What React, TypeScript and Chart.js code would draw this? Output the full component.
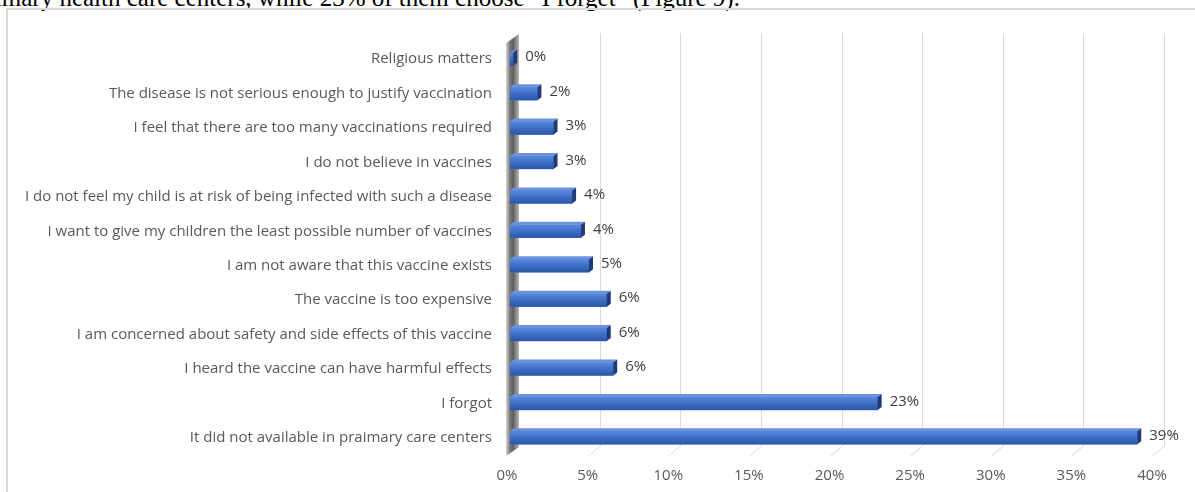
import React, { useEffect, useRef } from "react";
import { Chart, registerables } from "chart.js";

Chart.register(...registerables);

const categories: string[] = [
  "Religious matters",
  "The disease is not serious enough to justify vaccination",
  "I feel that there are too many vaccinations required",
  "I do not believe in vaccines",
  "I do not feel my child is at risk of being infected with such a disease",
  "I want to give my children the least possible number of vaccines",
  "I am not aware that this vaccine exists",
  "The vaccine is too expensive",
  "I am concerned about safety and side effects of this vaccine",
  "I heard the vaccine can have harmful effects",
  "I forgot",
  "It did not available in praimary care centers",
];

const values: number[] = [0.2, 1.7, 2.7, 2.7, 3.85, 4.4, 4.9, 6.0, 6.0, 6.4, 22.8, 38.9];

const xMin = 0;
const xMax = 40;
const xStep = 5;

const FONT = "'Open Sans', 'Noto Sans', sans-serif";
const FONT_SIZE = 15;
const DX = 12;
const DY = -9;
const FRONT_SHIFT = 3;

const threeD = {
  id: "threeD",
  beforeDatasetsDraw(chart: any) {
    const { ctx, chartArea, scales } = chart;
    const xs = scales.x;
    const top = chartArea.top;
    const bottom = chartArea.bottom;
    const x0 = xs.getPixelForValue(0) - FRONT_SHIFT - 1;
    ctx.save();
    const g = ctx.createLinearGradient(x0, 0, x0 + DX + 1, 0);
    g.addColorStop(0, "#d6d6d6");
    g.addColorStop(0.3, "#7a7a7a");
    g.addColorStop(0.55, "#5e5e5e");
    g.addColorStop(1, "#b8b8b8");
    ctx.fillStyle = g;
    ctx.beginPath();
    ctx.moveTo(x0, top + 1);
    ctx.lineTo(x0 + DX + 1, top + DY + 1);
    ctx.lineTo(x0 + DX + 1, bottom + DY + 1);
    ctx.lineTo(x0, bottom + 1);
    ctx.closePath();
    ctx.fill();
    ctx.strokeStyle = "#d9d9d9";
    ctx.lineWidth = 1;
    xs.ticks.forEach((t: any) => {
      if (t.value === 0) return;
      const px = Math.round(xs.getPixelForValue(t.value) - FRONT_SHIFT) + 0.5;
      ctx.beginPath();
      ctx.moveTo(px + DX, top + DY);
      ctx.lineTo(px + DX, bottom + DY);
      ctx.lineTo(px, bottom + 1);
      ctx.stroke();
    });
    ctx.restore();
  },
  afterDatasetsDraw(chart: any) {
    const { ctx } = chart;
    const meta = chart.getDatasetMeta(0);
    ctx.save();
    meta.data.forEach((bar: any, i: number) => {
      const { x, y, base, height } = bar.getProps(["x", "y", "base", "height"], true);
      const t = y - height / 2;
      const b = y + height / 2;
      const d = 4;
      const dy = 3;
      const gr = ctx.createLinearGradient(0, t, 0, b);
      gr.addColorStop(0, "#5a89dd");
      gr.addColorStop(0.45, "#4070c8");
      gr.addColorStop(1, "#2c56a6");
      ctx.fillStyle = gr;
      ctx.fillRect(base, t, x - base, b - t);
      ctx.fillStyle = "#6a93dc";
      ctx.beginPath();
      ctx.moveTo(base, t);
      ctx.lineTo(base + d, t - dy);
      ctx.lineTo(x + d, t - dy);
      ctx.lineTo(x, t);
      ctx.closePath();
      ctx.fill();
      ctx.fillStyle = "#1f3c78";
      ctx.beginPath();
      ctx.moveTo(x, t);
      ctx.lineTo(x + d, t - dy);
      ctx.lineTo(x + d, b - dy);
      ctx.lineTo(x, b);
      ctx.closePath();
      ctx.fill();
      ctx.fillStyle = "#404040";
      ctx.font = `${FONT_SIZE}px ${FONT}`;
      ctx.textAlign = "left";
      ctx.textBaseline = "middle";
      ctx.fillText(`${Math.round(values[i])}%`, x + d + 8, y - 2);
    });
    ctx.restore();
  },
};

export default function App() {
  const ref = useRef<HTMLCanvasElement | null>(null);

  useEffect(() => {
    document.body.style.margin = "0";
    const canvas = ref.current!;
    const chart = new Chart(canvas, {
      type: "bar",
      data: {
        labels: categories,
        datasets: [
          {
            data: values,
            barThickness: 13,
            borderWidth: 0,
            backgroundColor: "#3f6fc6",
          },
        ],
      },
      options: {
        indexAxis: "y",
        responsive: false,
        animation: false,
        maintainAspectRatio: false,
        layout: { padding: { left: 0, right: 40, top: 42, bottom: 0 } },
        plugins: {
          legend: { display: false },
          tooltip: { enabled: false },
          title: { display: false },
        },
        scales: {
          x: {
            min: xMin,
            max: xMax,
            grid: { display: false, drawTicks: false },
            border: { display: false },
            afterFit: (s: any) => {
              s.height = 37;
            },
            ticks: {
              stepSize: xStep,
              padding: 12,
              labelOffset: -FRONT_SHIFT,
              color: "#595959",
              font: { family: FONT, size: FONT_SIZE },
              callback: (v: any) => `${v}%`,
            },
          },
          y: {
            grid: { display: false, drawTicks: false },
            border: { display: false },
            afterFit: (s: any) => {
              s.width = 510;
            },
            ticks: {
              padding: 18,
              color: "#595959",
              font: { family: FONT, size: FONT_SIZE },
              autoSkip: false,
            },
          },
        },
      },
      plugins: [threeD],
    } as any);
    return () => chart.destroy();
  }, []);

  return (
    <div style={{ position: "relative", width: 1195, height: 492, overflow: "hidden", background: "#fff" }}>
      <div
        style={{
          position: "absolute",
          left: -26,
          top: -15,
          fontFamily: "'Liberation Serif', 'Times New Roman', serif",
          fontSize: 25,
          lineHeight: "25px",
          whiteSpace: "nowrap",
          color: "#000",
        }}
      >
        primary health care centers, while 23% of them choose “I forget” (Figure 9).
      </div>
      <div
        style={{
          position: "absolute",
          left: 6,
          top: 8,
          width: 1400,
          height: 700,
          borderLeft: "2px solid #d9d9d9",
          borderTop: "2px solid #d9d9d9",
        }}
      />
      <canvas ref={ref} width={1195} height={492} style={{ position: "absolute", left: 0, top: 0 }} />
    </div>
  );
}
